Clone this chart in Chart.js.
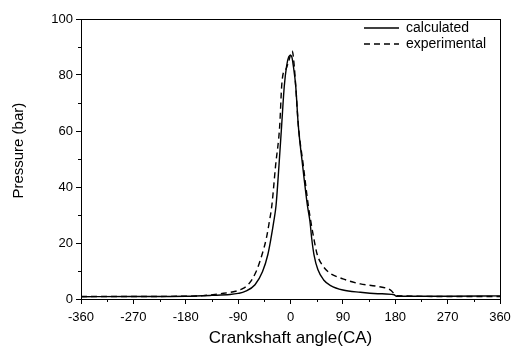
<!DOCTYPE html>
<html>
<head>
<meta charset="utf-8">
<script src="https://cdn.jsdelivr.net/npm/chart.js@4/dist/chart.umd.min.js"></script>
<style>
  html, body { margin: 0; padding: 0; background: #fff; }
  #wrap { width: 512px; height: 347px; }
</style>
</head>
<body>
<div id="wrap"><canvas id="pressureChart" width="512" height="347"></canvas></div>
<script>
// crank angle (deg) / cylinder pressure (bar)
const angleCalc = [-360, -270, -180, -135, -104, -90, -78, -61, -48, -39, -33.5, -28.8,
    -24.8, -19.8, -15.2, -10.7, -6.6, -3, 0, 2.5, 4.8, 8.9, 13.4, 20.8, 29, 33.5, 36.4,
    40.4, 47, 57, 69, 90, 120, 150, 178, 182, 270, 360];
const pressureCalc = [0.8, 0.9, 1.0, 1.3, 1.6, 2.0, 2.7, 5.1, 9.8, 15.8, 21.7, 27.6,
    33.5, 47.7, 62, 76, 83.3, 86.5, 87, 86.3, 83.3, 76.2, 62, 47.7, 33.5, 27.6, 21.7,
    15.8, 10.5, 6.8, 4.8, 3.2, 2.4, 1.9, 1.5, 1.0, 1.0, 1.1];

const angleExp = [-360, -270, -180, -150, -121, -98, -84, -72, -59, -49, -41.5, -36.4,
    -32, -25.6, -18.5, -15.2, -12, -8, -3, 3, 6.5, 9, 13.5, 22, 30.5, 35, 40, 46, 55,
    66, 90, 120, 150, 172, 182, 270, 360];
const pressureExp = [0.9, 0.9, 1.0, 1.2, 1.9, 2.6, 3.5, 5.3, 9.8, 15.8, 21.7, 27.6,
    33.5, 47.7, 62, 76, 81, 82, 85, 88.6, 83, 76, 62, 47.7, 33.5, 27.6, 21.7, 15.8, 12,
    9.5, 7.2, 5.4, 4.5, 3.2, 1.2, 0.9, 0.9];

const xTicks = [-360, -270, -180, -90, 0, 90, 180, 270, 360];
const xMinor = [-315, -225, -135, -45, 45, 135, 225, 315];
const yTicks = [0, 20, 40, 60, 80, 100];
const yMinor = [10, 30, 50, 70, 90];

const FONT = "'Liberation Sans', Arial, sans-serif";

const toPoints = (xs, ys) => xs.map((x, i) => ({ x, y: ys[i] }));

// frame + minor ticks + legend placement
const framePlugin = {
    id: "frame",
    afterLayout(chart) {
        const lg = chart.legend;
        if (!lg) return;
        const w = lg.width;
        lg.left = chart.chartArea.right - 138;
        lg.right = lg.left + w;
        lg.top = chart.chartArea.top;
        lg.bottom = lg.top + 40;
    },
    afterDraw(chart) {
        const { ctx, chartArea: a, scales } = chart;
        ctx.save();
        ctx.strokeStyle = "#000";
        ctx.lineWidth = 1;
        ctx.strokeRect(a.left + 0.5, a.top + 0.5, a.right - a.left, a.bottom - a.top);
        ctx.beginPath();
        xMinor.forEach(v => {
            const px = Math.round(scales.x.getPixelForValue(v)) + 0.5;
            ctx.moveTo(px, a.bottom);
            ctx.lineTo(px, a.bottom + 3);
        });
        yMinor.forEach(v => {
            const py = Math.round(scales.y.getPixelForValue(v)) + 0.5;
            ctx.moveTo(a.left, py);
            ctx.lineTo(a.left - 3, py);
        });
        ctx.stroke();
        ctx.restore();
    }
};

new Chart(document.getElementById("pressureChart"), {
    type: "line",
    data: {
        datasets: [
            {
                label: "calculated",
                data: toPoints(angleCalc, pressureCalc),
                borderColor: "#000",
                borderWidth: 1.4,
                pointRadius: 0,
                cubicInterpolationMode: "monotone",
            },
            {
                label: "experimental",
                data: toPoints(angleExp, pressureExp),
                borderColor: "#000",
                borderWidth: 1.4,
                borderDash: [6, 4],
                pointRadius: 0,
                cubicInterpolationMode: "monotone",
            }
        ]
    },
    options: {
        responsive: false,
        animation: false,
        layout: { padding: { top: 19, right: 12, left: 0, bottom: 0 } },
        plugins: {
            tooltip: { enabled: false },
            legend: {
                position: "chartArea",
                align: "start",
                labels: {
                    usePointStyle: true,
                    pointStyle: "line",
                    pointStyleWidth: 35,
                    boxWidth: 35,
                    boxHeight: 10,
                    padding: 2,
                    color: "#000",
                    font: { family: FONT, size: 14 },
                    generateLabels: chart =>
                        Chart.defaults.plugins.legend.labels.generateLabels(chart).map((item, i) => ({
                            ...item,
                            strokeStyle: "#000",
                            lineWidth: 1.3,
                            lineDash: chart.data.datasets[i].borderDash || []
                        }))
                }
            }
        },
        scales: {
            x: {
                type: "linear",
                min: -360,
                max: 360,
                afterBuildTicks: s => { s.ticks = xTicks.map(value => ({ value })); },
                afterFit: s => { s.height = 48; s.paddingLeft = 0; s.paddingRight = 12; },
                grid: { drawOnChartArea: false, drawTicks: true, tickLength: 5, tickColor: "#000" },
                border: { color: "#000", width: 1 },
                ticks: { color: "#000", padding: 6, maxRotation: 0, font: { family: FONT, size: 13 } },
                title: {
                    display: true,
                    text: "Crankshaft angle(CA)",
                    color: "#000",
                    font: { family: FONT, size: 17 },
                    padding: { top: 0, bottom: -2 }
                }
            },
            y: {
                min: 0,
                max: 100,
                afterBuildTicks: s => { s.ticks = yTicks.map(value => ({ value })); },
                afterFit: s => { s.width = 81; },
                grid: { drawOnChartArea: false, drawTicks: true, tickLength: 5, tickColor: "#000" },
                border: { color: "#000", width: 1 },
                ticks: { color: "#000", padding: 3, font: { family: FONT, size: 13 } },
                title: {
                    display: true,
                    text: "    Pressure (bar)",
                    color: "#000",
                    font: { family: FONT, size: 15 },
                    padding: { top: 10, bottom: 0 }
                }
            }
        }
    },
    plugins: [framePlugin]
});
</script>
</body>
</html>
